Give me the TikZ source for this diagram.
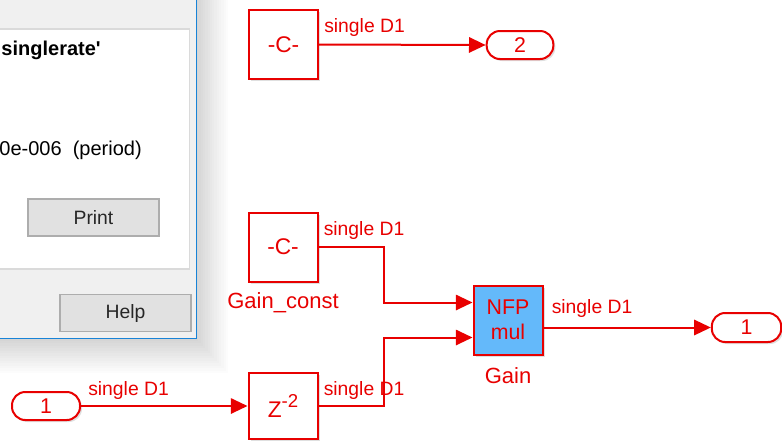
\documentclass[tikz,border=0pt]{standalone}
\usepackage{fontspec}
\setmainfont{Liberation Sans}
\usetikzlibrary{arrows.meta,calc,shadows}
\definecolor{sred}{RGB}{232,0,0}
\definecolor{gblue}{RGB}{100,185,250}
\definecolor{winblue}{RGB}{24,131,215}
\definecolor{dlgbg}{RGB}{240,240,240}
\definecolor{btnfill}{RGB}{225,225,225}
\definecolor{btnline}{RGB}{173,173,173}
\definecolor{panelline}{RGB}{218,218,218}
\begin{document}
\begin{tikzpicture}[x=0.75pt,y=-0.75pt,
  blk/.style={draw=sred,line width=1.5pt,fill=white,minimum width=51.75pt,minimum height=51.75pt,inner sep=0pt,text=sred,font=\fontsize{17}{19}\selectfont,
    drop shadow={shadow xshift=1.5pt,shadow yshift=-1.5pt,opacity=0.25,fill=gray}},
  port/.style={draw=sred,line width=1.5pt,fill=white,rounded corners=10pt,minimum width=50pt,minimum height=21pt,inner sep=0pt,text=sred,font=\fontsize{16}{18}\selectfont,
    drop shadow={shadow xshift=1.5pt,shadow yshift=-1.5pt,opacity=0.25,fill=gray}},
  sig/.style={draw=sred,line width=1.5pt,-{Triangle[length=12.5pt,width=11.5pt]}},
  lbl/.style={text=sred,font=\fontsize{14.5}{16}\selectfont,anchor=base west,inner sep=0pt},
  bname/.style={text=sred,font=\fontsize{16.5}{18}\selectfont,anchor=base,inner sep=0pt},
  btn/.style={draw=btnline,fill=btnfill,line width=1pt,minimum width=98.25pt,minimum height=27.75pt,inner sep=0pt,font=\fontsize{14.5}{16}\selectfont,text=black!85},
  dlgtxt/.style={anchor=base east,inner sep=0pt,text=black,font=\fontsize{15}{17}\selectfont}
]
\useasboundingbox (0,0) rectangle (782,440);
\clip (0,0) rectangle (782,440);
\fill[white] (0,0) rectangle (782,440);

% dialog shadow
\foreach \i in {1,...,14} {
  \fill[black,opacity=0.012] (-10,-10) rectangle (196+2.3*\i,338+2.5*\i);
}
% dialog window
\fill[dlgbg] (-10,-10) rectangle (196.5,338.5);
\draw[winblue,line width=1.2pt] (-10,-10) rectangle (196.5,338.5);
\draw[panelline,fill=white,line width=0.8pt] (-10,29) rectangle (189.5,269);
\node[dlgtxt,font=\fontsize{15}{17}\selectfont\bfseries] (title) at (101,55) {singlerate\textquotesingle};
\node[dlgtxt] (period) at (142,155) {0e-006\ \ (period)};
\node[btn] (print) at (93.5,217.5) {Print};
\node[btn] (help) at (125.5,313) {Help};

% blocks
\node[blk] (c2) at (283.5,44.5) {-C-};
\node[blk] (gc) at (283,247) {-C-};
\node[blk,minimum height=49.5pt] (z) at (283,406) {Z\raisebox{7.5pt}{\fontsize{14}{14}\selectfont -2}};
\node[blk,fill=gblue,align=center,font=\fontsize{16}{19}\selectfont] (gain) at (508,320) {NFP\\mul};
\node[port] (out2) at (520,45) {2};
\node[port,minimum width=52pt,minimum height=21.75pt] (out1) at (746.5,327.5) {1};
\node[port,minimum width=51pt] (in1) at (46,406) {1};

\coordinate (bx) at (384,0);
\coordinate (gp1) at ($(gain.west)+(0,-17.5)$);
\coordinate (gp2) at ($(gain.west)+(0,17.5)$);

% connectors
\draw[sig] (c2.east) -- (out2.west);
\draw[sig] (gc.east) -- (gc.east -| bx) |- (gp1);
\draw[sig] (z.east) -- (z.east -| bx) |- (gp2);
\draw[sig] (gain.east |- out1.west) -- (out1.west);
\draw[sig] (in1.east) -- (z.west);

% labels
\node[lbl] (l1) at ($(c2.east)+(5,-12)$) {single D1};
\node[lbl] (l2) at ($(gc.east)+(5,-12)$) {single D1};
\node[lbl] (l3) at ($(z.east)+(5,-11)$) {single D1};
\node[lbl] (l4) at ($(in1.east)+(7,-11)$) {single D1};
\node[lbl] (l5) at ($(gain.east |- out1.west)+(8,-14)$) {single D1};
\node[bname] (n1) at ($(gc.south)+(0,26)$) {Gain\_const};
\node[bname] (n2) at ($(gain.south)+(0,28)$) {Gain};
\end{tikzpicture}
\end{document}
